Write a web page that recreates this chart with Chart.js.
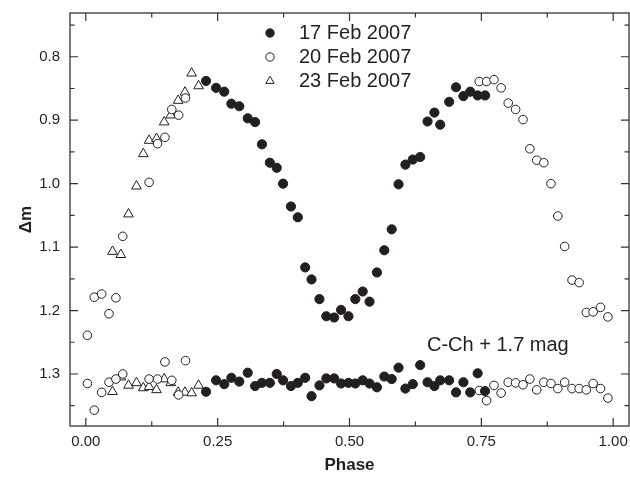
<!DOCTYPE html>
<html>
<head>
<meta charset="utf-8">
<script src="https://cdn.jsdelivr.net/npm/chart.js@4"></script>
<style>
  html, body { margin: 0; padding: 0; background: #fff; overflow: hidden; }
  #wrap { width: 630px; height: 481px; position: relative; }
  canvas { display: block; }
</style>
</head>
<body>
<div id="wrap"><canvas id="lightCurve"></canvas></div>
<script>
// Observed nights (legend labels)
const nights = ['17 Feb 2007', '20 Feb 2007', '23 Feb 2007'];

// 17 Feb 2007: phase, variable (Δm) and comparison star (C-Ch + 1.7 mag)
const phase17 = [0.228, 0.247, 0.2625, 0.276, 0.291, 0.307, 0.321, 0.334, 0.349, 0.362,
                 0.374, 0.389, 0.402, 0.416, 0.428, 0.443, 0.456, 0.471, 0.484, 0.498,
                 0.511, 0.525, 0.538, 0.552, 0.566, 0.580, 0.593, 0.606, 0.620, 0.634,
                 0.648, 0.661, 0.672, 0.689, 0.702, 0.716, 0.729, 0.743, 0.757];
const var17 = [0.838, 0.849, 0.855, 0.874, 0.878, 0.897, 0.903, 0.938, 0.967, 0.975,
               1.000, 1.036, 1.053, 1.132, 1.151, 1.182, 1.209, 1.211, 1.199, 1.209,
               1.182, 1.170, 1.186, 1.140, 1.105, 1.072, 1.001, 0.970, 0.962, 0.958,
               0.902, 0.888, 0.907, 0.871, 0.848, 0.862, 0.855, 0.861, 0.861];
const comp17 = [1.328, 1.310, 1.316, 1.306, 1.312, 1.298, 1.319, 1.314, 1.314, 1.300,
                1.310, 1.319, 1.314, 1.306, 1.335, 1.318, 1.307, 1.307, 1.315, 1.314,
                1.315, 1.310, 1.315, 1.321, 1.304, 1.308, 1.290, 1.323, 1.316, 1.286,
                1.313, 1.319, 1.310, 1.310, 1.329, 1.313, 1.329, 1.299, 1.327];

// 20 Feb 2007
const phase20 = [0.003, 0.016, 0.030, 0.044, 0.057, 0.070, 0.120, 0.136, 0.150, 0.163,
                 0.176, 0.189, 0.746, 0.760, 0.774, 0.7875, 0.801, 0.815, 0.829, 0.842,
                 0.855, 0.8685, 0.882, 0.895, 0.908, 0.922, 0.9355, 0.949, 0.962, 0.976,
                 0.990];
const var20 = [1.239, 1.179, 1.174, 1.205, 1.180, 1.083, 0.998, 0.937, 0.927, 0.883,
               0.892, 0.865, 0.839, 0.839, 0.836, 0.849, 0.873, 0.883, 0.899, 0.945,
               0.963, 0.967, 1.000, 1.051, 1.099, 1.152, 1.156, 1.203, 1.202, 1.195,
               1.210];
const comp20 = [1.315, 1.357, 1.329, 1.313, 1.308, 1.300, 1.308, 1.308, 1.281, 1.310,
                1.333, 1.279, 1.326, 1.342, 1.318, 1.330, 1.313, 1.314, 1.317, 1.308,
                1.325, 1.313, 1.315, 1.323, 1.313, 1.323, 1.323, 1.325, 1.315, 1.323,
                1.338];

// 23 Feb 2007
const phase23 = [0.0506, 0.0664, 0.081, 0.096, 0.109, 0.120, 0.134, 0.1486, 0.161, 0.175,
                 0.188, 0.2006, 0.2138];
const var23 = [1.107, 1.112, 1.048, 1.004, 0.953, 0.932, 0.929, 0.903, 0.892, 0.869,
               0.856, 0.826, 0.846];
const comp23 = [1.328, 1.305, 1.318, 1.314, 1.322, 1.320, 1.325, 1.308, 1.314, 1.329,
                1.329, 1.330, 1.318];

// Axis ticks
const xMajor = [0, 0.25, 0.5, 0.75, 1.0];
const xMinor = [0.125, 0.375, 0.625, 0.875];
const yMajor = [0.8, 0.9, 1.0, 1.1, 1.2, 1.3];
const yMinor = [0.75, 0.85, 0.95, 1.05, 1.15, 1.25, 1.35];

const compLabel = 'C-Ch + 1.7 mag';

const ink = '#231f20';
const fontFamily = "'Liberation Sans', Arial, Helvetica, sans-serif";

// variable + comparison points of one night
function nightPoints(phase, v, c) {
    const pts = phase.map((p, i) => ({ x: p, y: v[i] }));
    return pts.concat(phase.map((p, i) => ({ x: p, y: c[i] })));
}

const markerStyles = [
    { pointStyle: 'circle', radius: 4.6, backgroundColor: ink, borderColor: ink, borderWidth: 1 },
    { pointStyle: 'circle', radius: 4.3, backgroundColor: '#fff', borderColor: ink, borderWidth: 1 },
    { pointStyle: 'triangle', radius: 5.6, backgroundColor: '#fff', borderColor: ink, borderWidth: 1 }
];

const datasets = [
    nightPoints(phase17, var17, comp17),
    nightPoints(phase20, var20, comp20),
    nightPoints(phase23, var23, comp23)
].map((pts, i) => ({
    label: nights[i],
    data: pts,
    pointStyle: markerStyles[i].pointStyle,
    pointRadius: markerStyles[i].radius,
    pointBackgroundColor: markerStyles[i].backgroundColor,
    pointBorderColor: markerStyles[i].borderColor,
    pointBorderWidth: markerStyles[i].borderWidth,
    showLine: false
}));

// fixed axis box, no extra label padding from the layout
function fixBox(s, size) {
    if (s.isHorizontal()) s.height = size; else s.width = size;
    s.paddingTop = 0; s.paddingBottom = 0;
    s.paddingLeft = 0; s.paddingRight = 0;
}

// frame with inward ticks on all four sides
const framePlugin = {
    id: 'frame',
    beforeDatasetsDraw(chart) {
        const { ctx, chartArea: a, scales: { x, y } } = chart;
        ctx.save();
        ctx.strokeStyle = '#333';
        ctx.lineWidth = 1.3;
        ctx.strokeRect(a.left, a.top, a.right - a.left, a.bottom - a.top);
        ctx.lineWidth = 1.2;
        ctx.beginPath();
        const xt = (vals, len) => vals.forEach(v => {
            const px = x.getPixelForValue(v);
            ctx.moveTo(px, a.bottom); ctx.lineTo(px, a.bottom - len);
            ctx.moveTo(px, a.top); ctx.lineTo(px, a.top + len);
        });
        const yt = (vals, len) => vals.forEach(v => {
            const py = y.getPixelForValue(v);
            ctx.moveTo(a.left, py); ctx.lineTo(a.left + len, py);
            ctx.moveTo(a.right, py); ctx.lineTo(a.right - len, py);
        });
        xt(xMajor, 8); xt(xMinor, 4.5);
        yt(yMajor, 8); yt(yMinor, 4.5);
        ctx.stroke();
        ctx.restore();
    },
    afterDraw(chart) {
        const { ctx } = chart;
        ctx.save();
        ctx.fillStyle = ink;
        ctx.font = '20px ' + fontFamily;
        ctx.textBaseline = 'middle';
        ctx.textAlign = 'left';
        const rows = [33, 57, 81];
        chart.data.datasets.forEach((ds, i) => {
            ctx.fillStyle = ds.pointBackgroundColor;
            ctx.strokeStyle = ds.pointBorderColor;
            ctx.lineWidth = 1;
            Chart.helpers.drawPoint(ctx, {
                pointStyle: ds.pointStyle,
                radius: ds.pointStyle === 'triangle' ? 4.8 : 4.2,
                rotation: 0,
                borderWidth: 1
            }, 270, rows[i]);
            ctx.fillStyle = ink;
            ctx.fillText(ds.label, 299, rows[i]);
        });
        ctx.fillText(compLabel, 427, 345);
        ctx.restore();
    }
};

Chart.defaults.font.family = fontFamily;
Chart.defaults.color = ink;

new Chart(document.getElementById('lightCurve'), {
    type: 'scatter',
    data: { datasets: datasets },
    options: {
        responsive: true,
        maintainAspectRatio: false,
        animation: false,
        devicePixelRatio: 1,
        // autoPadding would pull the right edge in by the marker radius
        layout: { autoPadding: false, padding: { top: 13, right: 1, left: 0, bottom: 0 } },
        plugins: {
            legend: { display: false },
            tooltip: { enabled: false }
        },
        scales: {
            x: {
                type: 'linear',
                min: -0.03,
                max: 1.03,
                afterBuildTicks: s => { s.ticks = xMajor.map(v => ({ value: v })); },
                afterFit: s => fixBox(s, 55),
                grid: { display: false, drawTicks: false },
                border: { display: false },
                ticks: { padding: 7, font: { size: 15 }, color: ink, maxRotation: 0,
                         callback: v => v.toFixed(2) },
                title: { display: true, text: 'Phase', color: ink,
                         font: { size: 17, weight: 'bold' }, padding: { top: 0, bottom: 5 } }
            },
            y: {
                type: 'linear',
                reverse: true,
                min: 0.731,
                max: 1.382,
                afterBuildTicks: s => { s.ticks = yMajor.map(v => ({ value: v })); },
                afterFit: s => fixBox(s, 70),
                grid: { display: false, drawTicks: false },
                border: { display: false },
                ticks: { padding: 10, font: { size: 15 }, color: ink,
                         callback: v => v.toFixed(1) },
                title: { display: true, text: 'Δm', color: ink,
                         font: { size: 17, weight: 'bold' }, padding: { top: 16, bottom: 0 } }
            }
        }
    },
    plugins: [framePlugin]
});
</script>
</body>
</html>
